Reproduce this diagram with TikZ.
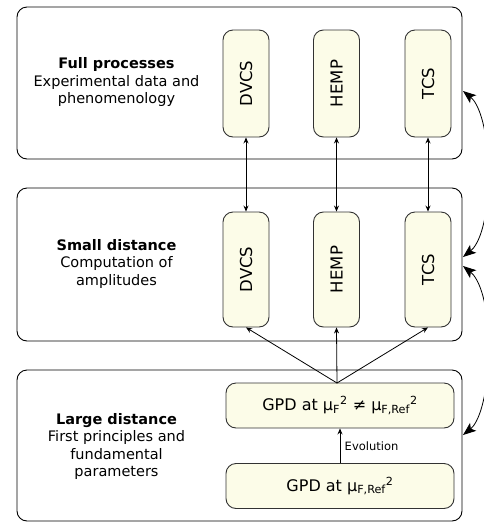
\documentclass[tikz,border=0pt]{standalone}
\usepackage{fontspec}
\setmainfont{DejaVu Sans}
\usetikzlibrary{arrows.meta}
\definecolor{boxfill}{RGB}{252,252,232}
\definecolor{boxline}{RGB}{50,50,50}
\tikzset{
  outerbox/.style={draw=black, line width=0.9pt, rounded corners=10pt, minimum width=445pt, inner sep=0pt},
  procbox/.style={draw=boxline, fill=boxfill, line width=0.9pt, rounded corners=10pt, minimum width=46pt, inner sep=0pt},
  proclabel/.style={rotate=90, font=\fontsize{16.5}{18}\selectfont},
  gpdbox/.style={draw=boxline, fill=boxfill, line width=0.9pt, rounded corners=10pt, minimum width=228pt, minimum height=45pt, inner sep=0pt, font=\fontsize{16}{18}\selectfont},
  sidetext/.style={align=center, font=\fontsize{14.5}{17.5}\selectfont},
  link/.style={line width=0.8pt, -{Stealth[length=6pt,width=5pt]}},
  dlink/.style={line width=0.8pt, {Stealth[length=6pt,width=5pt]}-{Stealth[length=6pt,width=5pt]}},
  loop/.style={line width=0.8pt, -{Stealth[length=13pt,width=10pt,inset=3pt]}}
}
\begin{document}
\begin{tikzpicture}[x=1pt,y=-1pt]
\useasboundingbox (0,0) rectangle (484,523);
\clip (0,0) rectangle (484,523);
% outer boxes
\node[outerbox, minimum height=152pt] (full) at (239.5,83) {};
\node[outerbox, minimum height=153pt] (small) at (239.5,264.5) {};
\node[outerbox, minimum height=151pt] (large) at (239.5,445.5) {};
% side texts
\node[sidetext] (tfull) at (116.5,82) {\textbf{Full processes}\\Experimental data and\\phenomenology};
\node[sidetext] (tsmall) at (116.5,263.5) {\textbf{Small distance}\\Computation of\\amplitudes};
\node[sidetext] (tlarge) at (116.5,446.5) {\textbf{Large distance}\\First principles and\\fundamental\\parameters};
% full process boxes
\node[procbox, minimum height=107pt] (fd) at (246,83.5) {};
\node[procbox, minimum height=107pt] (fh) at (336.5,83.5) {};
\node[procbox, minimum height=107pt] (ft) at (428,83.5) {};
\node[proclabel] (fdl) at (fd) {DVCS};
\node[proclabel] (fhl) at (fh) {HEMP};
\node[proclabel] (ftl) at (ft) {TCS};
% small distance boxes
\node[procbox, minimum height=115pt] (sd) at (246,269.5) {};
\node[procbox, minimum height=115pt] (sh) at (336.5,269.5) {};
\node[procbox, minimum height=115pt] (st) at (428,269.5) {};
\node[proclabel] (sdl) at (sd) {DVCS};
\node[proclabel] (shl) at (sh) {HEMP};
\node[proclabel] (stl) at (st) {TCS};
% GPD boxes
\node[gpdbox] (gtop) at (340,405.5) {GPD at μ\textsubscript{F}\textsuperscript{2} ≠ μ\textsubscript{F,Ref}\textsuperscript{2}};
\node[gpdbox] (gbot) at (340,486) {GPD at μ\textsubscript{F,Ref}\textsuperscript{2}};
% connectors
\draw[dlink] (fd.south) -- (sd.north);
\draw[dlink] (fh.south) -- (sh.north);
\draw[dlink] (ft.south) -- (st.north);
\coordinate (apex) at (337,383);
\draw[link] (apex) -- (sd.south);
\draw[link] (apex) -- (sh.south);
\draw[link] (apex) -- (st.south);
\draw[link] (gbot.north) -- node[right, font=\fontsize{11.5}{13}\selectfont, xshift=1pt] {Evolution} (gtop.south);
% loop arrows on the right (clipped)
\coordinate (a0) at (488,165);
\coordinate (a1) at (463,91);
\coordinate (b0) at (488,185);
\coordinate (b1) at (463,257);
\coordinate (c0) at (488,335);
\coordinate (c1) at (463,266);
\coordinate (d0) at (488,360);
\coordinate (d1) at (463,435);
\draw[loop] (a0) .. controls (487,125) and (478,103) .. (a1);
\draw[loop] (b0) .. controls (487,225) and (478,245) .. (b1);
\draw[loop] (c0) .. controls (487,298) and (478,278) .. (c1);
\draw[loop] (d0) .. controls (487,400) and (478,423) .. (d1);
\end{tikzpicture}
\end{document}
